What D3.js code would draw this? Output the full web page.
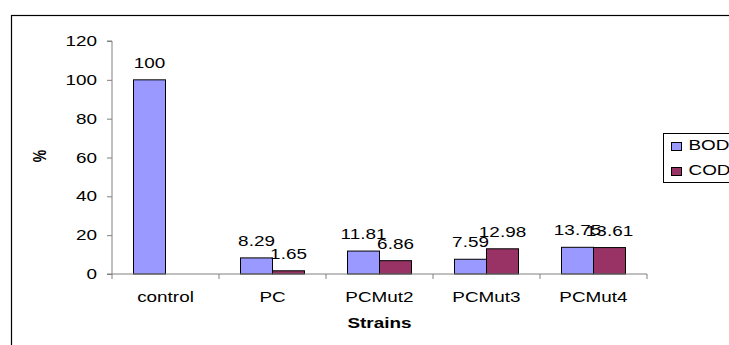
<!DOCTYPE html>
<html>
<head>
<meta charset="utf-8">
<script src="https://cdn.jsdelivr.net/npm/d3@7"></script>
<style>
  body { margin: 0; background: #fff; }
  svg { display: block; font-family: "Liberation Sans", Arial, sans-serif; }
</style>
</head>
<body>
<svg id="chart" width="729" height="345"></svg>
<script>
// Chart data
const strains = ["control", "PC", "PCMut2", "PCMut3", "PCMut4"];
const bodValues = [100, 8.29, 11.81, 7.59, 13.75];
const codValues = [null, 1.65, 6.86, 12.98, 13.61];
const seriesNames = ["BOD", "COD"];
const seriesColors = ["#9999ff", "#993366"];
const yTicks = [0, 20, 40, 60, 80, 100, 120];

var svg = d3.select("svg#chart");

// The source picture is stretched sideways, so text is widened too
const stretch = 1.35;
function placeText(sel, px, py) {
  return sel.attr("transform", (d, i) =>
     "translate(" + px(d, i) + "," + py(d, i) + ") scale(" + stretch + ",1)");
}

// Outer chart frame (runs off the right and bottom edges)
svg.append("rect")
   .attr("x", 11.5).attr("y", 15.5)
   .attr("width", 760).attr("height", 360)
   .style("fill", "none").style("stroke", "#000").style("stroke-width", 1.2);

const plotLeft = 112, plotRight = 647, plotTop = 41, plotBottom = 274;

var x = d3.scaleBand().domain(strains).range([plotLeft, plotRight]);
var y = d3.scaleLinear().domain([0, 120]).range([plotBottom, plotTop]);

const barWidth = 32;
var inner = d3.scaleBand().domain(seriesNames)
    .range([(x.bandwidth() - 2 * barWidth) / 2, (x.bandwidth() + 2 * barWidth) / 2]);

// Build rows for bars
var rows = [];
strains.forEach(function(s, i) {
  rows.push({ strain: s, series: "BOD", value: bodValues[i] });
  if (codValues[i] != null) rows.push({ strain: s, series: "COD", value: codValues[i] });
});

var color = d3.scaleOrdinal().domain(seriesNames).range(seriesColors);

// Bars
svg.append("g").selectAll("rect")
   .data(rows).enter().append("rect")
   .attr("x", d => x(d.strain) + inner(d.series))
   .attr("y", d => y(d.value))
   .attr("width", inner.bandwidth())
   .attr("height", d => y(0) - y(d.value))
   .style("fill", d => color(d.series))
   .style("stroke", "#000").style("stroke-width", 1);

// Value labels
placeText(svg.append("g").selectAll("text")
   .data(rows).enter().append("text"),
   d => x(d.strain) + inner(d.series) + inner.bandwidth() / 2,
   d => y(d.value) - 12)
   .attr("text-anchor", "middle")
   .style("font-size", "14px")
   .text(d => d.value);

// Y axis (lines from d3, labels drawn separately so they can be widened)
var yAxis = d3.axisLeft(y).tickValues(yTicks).tickSize(5).tickFormat("");
var yg = svg.append("g")
   .attr("transform", "translate(" + plotLeft + ",0)")
   .call(yAxis);
yg.select(".domain").attr("stroke", "#808080").attr("d", "M-5," + plotTop + "H0V" + plotBottom + "H-5");
yg.selectAll(".tick line").attr("stroke", "#808080");

placeText(svg.append("g").selectAll("text")
   .data(yTicks).enter().append("text"),
   d => 97, d => y(d) + 5)
   .attr("text-anchor", "end")
   .style("font-size", "14px")
   .text(d => d);

// X axis
var xg = svg.append("g")
   .attr("transform", "translate(0," + plotBottom + ")");
xg.append("line")
   .attr("x1", plotLeft).attr("x2", plotRight)
   .attr("stroke", "#808080");
xg.selectAll("line.tick")
   .data(strains.concat(["end"])).enter().append("line")
   .attr("class", "tick")
   .attr("x1", (d, i) => plotLeft + i * x.step())
   .attr("x2", (d, i) => plotLeft + i * x.step())
   .attr("y1", 0).attr("y2", 5)
   .attr("stroke", "#808080");
placeText(xg.selectAll("text")
   .data(strains).enter().append("text"),
   d => x(d) + x.bandwidth() / 2, d => 28)
   .attr("text-anchor", "middle")
   .style("font-size", "14px")
   .text(d => d);

// Axis titles
svg.append("text")
   .attr("transform", "translate(46,156) rotate(-90) scale(1," + stretch + ")")
   .attr("text-anchor", "middle")
   .style("font-size", "14px").style("font-weight", "bold")
   .text("%");

placeText(svg.append("text").datum(0),
   d => (plotLeft + plotRight) / 2, d => 328)
   .attr("text-anchor", "middle")
   .style("font-size", "14px").style("font-weight", "bold")
   .text("Strains");

// Legend (cut off at right edge)
var legend = svg.append("g").attr("transform", "translate(663.5,133.5)");
legend.append("rect")
   .attr("width", 80).attr("height", 49)
   .style("fill", "#fff").style("stroke", "#000");
legend.selectAll("rect.swatch")
   .data(seriesNames).enter().append("rect")
   .attr("class", "swatch")
   .attr("x", 8).attr("y", (d, i) => 9 + i * 25)
   .attr("width", 10).attr("height", 8)
   .style("fill", d => color(d)).style("stroke", "#000");
placeText(legend.selectAll("text")
   .data(seriesNames).enter().append("text"),
   d => 25, (d, i) => 16.5 + i * 25)
   .style("font-size", "14px")
   .text(d => d);
</script>
</body>
</html>
